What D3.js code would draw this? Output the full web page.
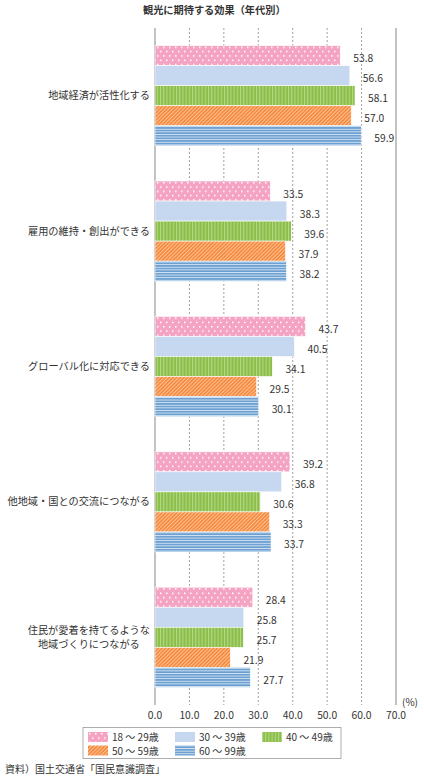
<!DOCTYPE html>
<html>
<head>
<meta charset="utf-8">
<script src="https://cdn.jsdelivr.net/npm/d3@7"></script>
<style>
  body { margin: 0; background: #fff; }
  svg text { font-family: "Noto Sans CJK JP", "Noto Sans", sans-serif; fill: #333; }
</style>
</head>
<body>
<div id="chart"></div>
<script>
const width = 424;
const height = 782;

// categories (multi-line labels split by \n)
const categories = [
    "地域経済が活性化する",
    "雇用の維持・創出ができる",
    "グローバル化に対応できる",
    "他地域・国との交流につながる",
    "住民が愛着を持てるような\n地域づくりにつながる"
];
const ageGroups = ["18 ～ 29歳", "30 ～ 39歳", "40 ～ 49歳", "50 ～ 59歳", "60 ～ 99歳"];
const age18 = [53.8, 33.5, 43.7, 39.2, 28.4];
const age30 = [56.6, 38.3, 40.5, 36.8, 25.8];
const age40 = [58.1, 39.6, 34.1, 30.6, 25.7];
const age50 = [57.0, 37.9, 29.5, 33.3, 21.9];
const age60 = [59.9, 38.2, 30.1, 33.7, 27.7];
const series = [age18, age30, age40, age50, age60];
const xTicks = [0, 10, 20, 30, 40, 50, 60, 70];

const fills = ["url(#pDots)", "#c6d8ef", "url(#pGreen)", "url(#pOrange)", "url(#pBlue)"];

const svg = d3.select("#chart").append("svg")
    .attr("width", width)
    .attr("height", height);

// patterns
const defs = svg.append("defs");
const dots = defs.append("pattern").attr("id", "pDots")
    .attr("patternUnits", "userSpaceOnUse").attr("width", 6).attr("height", 8.6);
dots.append("rect").attr("width", 6).attr("height", 8.6).attr("fill", "#f4a4c2");
dots.append("rect").attr("x", 1).attr("y", 1).attr("width", 1.5).attr("height", 1.5).attr("fill", "#fff");
dots.append("rect").attr("x", 4).attr("y", 5.3).attr("width", 1.5).attr("height", 1.5).attr("fill", "#fff");

const green = defs.append("pattern").attr("id", "pGreen")
    .attr("patternUnits", "userSpaceOnUse").attr("width", 3.2).attr("height", 4);
green.append("rect").attr("width", 3.2).attr("height", 4).attr("fill", "#8cbe4e");
green.append("rect").attr("x", 0).attr("width", 1).attr("height", 4).attr("fill", "#b6d982");

const orange = defs.append("pattern").attr("id", "pOrange")
    .attr("patternUnits", "userSpaceOnUse").attr("width", 2.6).attr("height", 6)
    .attr("patternTransform", "rotate(45)");
orange.append("rect").attr("width", 2.6).attr("height", 6).attr("fill", "#f68c44");
orange.append("rect").attr("width", 0.8).attr("height", 6).attr("fill", "#fcc99c");

const blue = defs.append("pattern").attr("id", "pBlue")
    .attr("patternUnits", "userSpaceOnUse").attr("width", 4).attr("height", 2.6);
blue.append("rect").attr("width", 4).attr("height", 2.6).attr("fill", "#6b9fd1");
blue.append("rect").attr("y", 0).attr("width", 4).attr("height", 0.9).attr("fill", "#d5e5f5");

// scales
const x = d3.scaleLinear().domain([0, 70]).range([155, 396]);
const y0 = d3.scaleBand().domain(categories).range([28, 705])
    .paddingInner(0.26).paddingOuter(0.13);
const y1 = d3.scaleBand().domain(d3.range(ageGroups.length)).range([0, y0.bandwidth()]);

// title
svg.append("text")
    .attr("x", 143).attr("y", 14)
    .style("font-size", "10.2px").style("font-weight", "bold")
    .text("観光に期待する効果（年代別）");

// grid
svg.append("g").selectAll("line")
    .data(xTicks)
    .join("line")
    .attr("x1", d => x(d)).attr("x2", d => x(d))
    .attr("y1", 28).attr("y2", 705)
    .attr("stroke", d => (d === 0 || d === 70) ? "#9a9a9a" : "#888")
    .attr("stroke-width", d => (d === 0 || d === 70) ? 1.2 : 0.8)
    .attr("stroke-dasharray", d => (d === 0 || d === 70) ? null : "2,2");

// tick labels
svg.append("g").selectAll("text")
    .data(xTicks)
    .join("text")
    .attr("x", d => x(d)).attr("y", 719)
    .attr("text-anchor", "middle")
    .style("font-size", "10.3px")
    .text(d => d3.format(".1f")(d));

svg.append("text")
    .attr("x", 402).attr("y", 706)
    .style("font-size", "10px")
    .text("(%)");

// bars
const groups = svg.append("g").selectAll("g")
    .data(categories)
    .join("g")
    .attr("transform", d => `translate(0,${y0(d)})`);

groups.selectAll("rect")
    .data((d, i) => series.map((s, k) => ({ k, v: s[i] })))
    .join("rect")
    .attr("x", x(0))
    .attr("y", d => y1(d.k))
    .attr("width", d => x(d.v) - x(0))
    .attr("height", y1.bandwidth())
    .attr("fill", d => fills[d.k])
    .attr("stroke", "#fff")
    .attr("stroke-width", 0.6);

groups.selectAll("text.val")
    .data((d, i) => series.map((s, k) => ({ k, v: s[i] })))
    .join("text")
    .attr("class", "val")
    .attr("x", d => x(d.v) + 13)
    .attr("y", d => y1(d.k) + y1.bandwidth() / 2 + 6.5)
    .style("font-size", "10.3px")
    .text(d => d3.format(".1f")(d.v));

// category labels, one text per line
categories.forEach(d => {
    const lines = d.split("\n");
    const cy = y0(d) + y0.bandwidth() / 2;
    const texts = lines.map((ln, j) => svg.append("text")
        .attr("x", 150)
        .attr("y", cy + 3.5 + (j - (lines.length - 1) / 2) * 14)
        .attr("text-anchor", "end")
        .style("font-size", "10.2px")
        .text(ln));
    if (lines.length > 1) {
        // center the block so the widest line ends at x=150
        const w = d3.max(texts, t => t.node().getComputedTextLength());
        texts.forEach(t => t.attr("text-anchor", "middle").attr("x", 150 - w / 2));
    }
});

// legend
const legend = svg.append("g");
legend.append("rect")
    .attr("x", 83).attr("y", 727.5).attr("width", 258).attr("height", 31)
    .attr("fill", "#fff").attr("stroke", "#999").attr("stroke-width", 0.8);

const legendX = [88, 175, 262];
const legendY = [732, 745.5];
const items = legend.selectAll("g")
    .data(ageGroups)
    .join("g")
    .attr("transform", (d, i) => `translate(${legendX[i % 3]},${legendY[Math.floor(i / 3)]})`);
items.append("rect")
    .attr("width", 20).attr("height", 10)
    .attr("fill", (d, i) => fills[i]);
items.append("text")
    .attr("x", 24).attr("y", 9)
    .style("font-size", "10px")
    .text(d => d);

// source
svg.append("text")
    .attr("x", 5).attr("y", 773)
    .style("font-size", "10px")
    .text("資料）国土交通省「国民意識調査」");
</script>
</body>
</html>
